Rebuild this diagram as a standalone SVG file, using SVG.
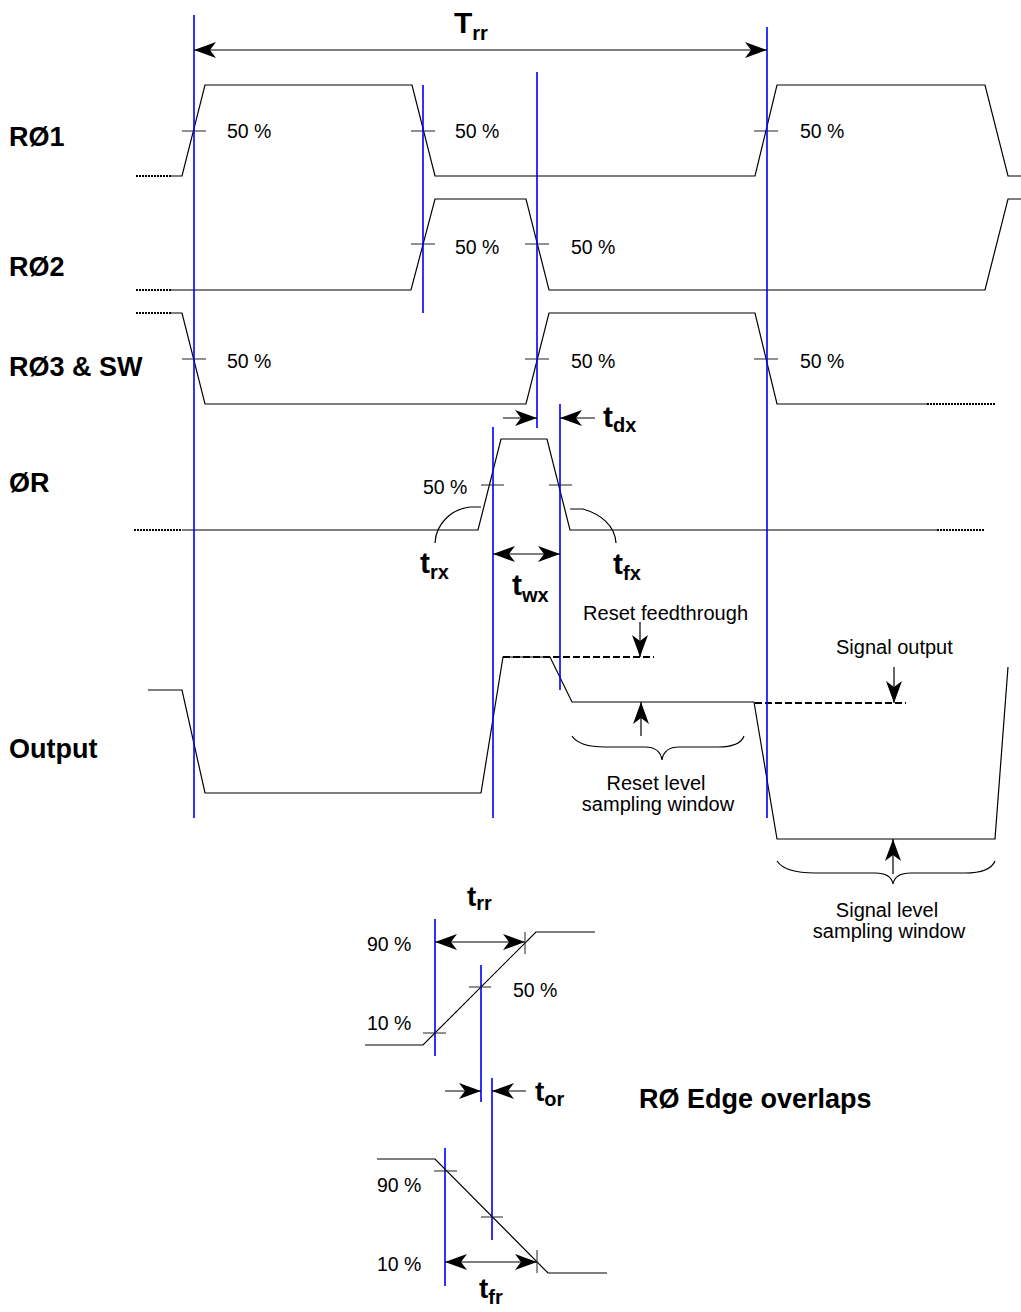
<svg xmlns="http://www.w3.org/2000/svg" width="1021" height="1312" viewBox="0 0 1021 1312">
<defs>
<style>
.w{fill:none;stroke:#000;stroke-width:1.2;stroke-linejoin:miter}
.dot{fill:none;stroke:#000;stroke-width:2;stroke-dasharray:2 1}
.dash{fill:none;stroke:#000;stroke-width:2;stroke-dasharray:7 3}
.tk{fill:none;stroke:#222;stroke-width:1}
.bl{fill:none;stroke:#0000ff;stroke-width:1.6}
.ar{fill:none;stroke:#000;stroke-width:1.2}
.lb{font-family:"Liberation Sans",Arial,sans-serif;font-weight:bold;font-size:27px;fill:#000}
.pc{font-family:"Liberation Sans",Arial,sans-serif;font-size:19.5px;fill:#000}
.an{font-family:"Liberation Sans",Arial,sans-serif;font-size:20px;fill:#000}
.tt{font-family:"Liberation Sans",Arial,sans-serif;font-weight:bold;font-size:30px;fill:#000}
.sb{font-size:20px}
</style>
<marker id="ah" viewBox="0 0 22 16" refX="22" refY="8" markerWidth="22" markerHeight="16" markerUnits="userSpaceOnUse" orient="auto-start-reverse"><path d="M0,0 L22,8 L0,16 L6,8 Z" fill="#000"/></marker>
</defs>
<rect width="1021" height="1312" fill="#fff"/>

<g id="labels">
<text class="lb" x="9" y="146">RØ1</text>
<text class="lb" x="9" y="276">RØ2</text>
<text class="lb" x="9" y="376">RØ3 &amp; SW</text>
<text class="lb" x="9" y="492">ØR</text>
<text class="lb" x="9" y="758">Output</text>
</g>

<g id="ro1">
<path class="dot" d="M136,176 H171"/>
<path class="w" d="M171,176 H182 L205,85 H412 L435,176 H755 L777,85 H985 L1008,176 H1021"/>
<path class="tk" d="M182,131 H206 M411,131 H435 M754,131 H778"/>
<text class="pc" x="227" y="138">50 %</text>
<text class="pc" x="455" y="138">50 %</text>
<text class="pc" x="800" y="138">50 %</text>
</g>

<g id="ro2">
<path class="dot" d="M136,290 H171"/>
<path class="w" d="M171,290 H411 L435,199 H526 L549,290 H985 L1008,199 H1021"/>
<path class="tk" d="M411,244 H435 M525,244 H549"/>
<text class="pc" x="455" y="254">50 %</text>
<text class="pc" x="571" y="254">50 %</text>
</g>

<g id="ro3">
<path class="dot" d="M136,313 H171"/>
<path class="w" d="M171,313 H182 L205,404 H526 L549,313 H755 L777,404 H927"/>
<path class="dot" d="M927,404 H996"/>
<path class="tk" d="M182,359 H206 M525,359 H549 M754,359 H778"/>
<text class="pc" x="227" y="368">50 %</text>
<text class="pc" x="571" y="368">50 %</text>
<text class="pc" x="800" y="368">50 %</text>
</g>

<g id="or">
<path class="dot" d="M134,530 H182"/>
<path class="w" d="M182,530 H478 L501,439 H547 L570,530 H937"/>
<path class="dot" d="M937,530 H985"/>
<path class="tk" d="M481,485 H504 M549,485 H572"/>
<text class="pc" x="423" y="494">50 %</text>
<path class="w" d="M481,507 H470 C452,509 436,523 435,543"/>
<path class="w" d="M570,509 H583 C600,514 615,525 616,543"/>
<text class="tt" x="420" y="573">t<tspan class="sb" dy="6">rx</tspan></text>
<text class="tt" x="613" y="574">t<tspan class="sb" dy="6">fx</tspan></text>
<text class="tt" x="512" y="595">t<tspan class="sb" dy="7">wx</tspan></text>
<text class="tt" x="603" y="427">t<tspan class="sb" dy="5">dx</tspan></text>
</g>

<g id="output">
<path class="w" d="M148,690 H182 L205,793 H481 L503,657 H550 L572,702 H754 L777,839 H995 L1008,667"/>
<path class="dash" d="M503,657 H654"/>
<path class="dash" d="M755,703 H906"/>
<text class="an" x="583" y="620" textLength="165">Reset feedthrough</text>
<text class="an" x="836" y="654">Signal output</text>
<path class="w" d="M572,736 Q579,747 605,747 H645 Q660,747 662,760 Q664,747 679,747 H718 Q740,747 744,736"/>
<path class="w" d="M777,861 Q785,873 815,873 H875 Q891,873 893,884 Q895,873 911,873 H965 Q990,873 995,861"/>
<text class="an" x="656" y="790" text-anchor="middle">Reset level</text>
<text class="an" x="658" y="811" text-anchor="middle">sampling window</text>
<text class="an" x="887" y="917" text-anchor="middle">Signal level</text>
<text class="an" x="889" y="938" text-anchor="middle">sampling window</text>
</g>

<g id="timing-lines">
<path class="bl" d="M194,15 V818 M423,85 V313 M537,72 V428 M767,27 V818 M493,427 V818 M560,404 V690"/>
<path class="bl" d="M435,919 V1056 M481,965 V1102 M492,1078 V1240 M445,1148 V1286"/>
</g>

<g id="connectors">
<path class="ar" d="M194,50 H767" marker-start="url(#ah)" marker-end="url(#ah)"/>
<path class="ar" d="M503,418 H537" marker-end="url(#ah)"/>
<path class="ar" d="M595,418 H560" marker-end="url(#ah)"/>
<path class="ar" d="M493,554 H560" marker-start="url(#ah)" marker-end="url(#ah)"/>
<path class="ar" d="M640,622 V657" marker-end="url(#ah)"/>
<path class="ar" d="M894,667 V703" marker-end="url(#ah)"/>
<path class="ar" d="M641,736 V702" marker-end="url(#ah)"/>
<path class="ar" d="M893,874 V839" marker-end="url(#ah)"/>
<path class="ar" d="M435,942 H525" marker-start="url(#ah)" marker-end="url(#ah)"/>
<path class="ar" d="M445,1091 H481" marker-end="url(#ah)"/>
<path class="ar" d="M526,1091 H492" marker-end="url(#ah)"/>
<path class="ar" d="M445,1262 H537" marker-start="url(#ah)" marker-end="url(#ah)"/>
</g>

<g id="trr-label">
<text class="tt" x="454" y="33">T<tspan class="sb" dy="7">rr</tspan></text>
</g>

<g id="edge-rise">
<path class="w" d="M365,1045 H423 L536,932 H595"/>
<path class="tk" d="M423,1033 H446 M469,987 H491 M525,932 V954"/>
<text class="pc" x="367" y="951">90 %</text>
<text class="pc" x="513" y="997">50 %</text>
<text class="pc" x="367" y="1030">10 %</text>
<text class="tt" x="467" y="906" style="font-size:28px">t<tspan class="sb" dy="4">rr</tspan></text>
</g>

<g id="edge-overlap">
<text class="tt" x="535" y="1101" style="font-size:28px">t<tspan class="sb" dy="5">or</tspan></text>
<text class="lb" x="639" y="1108">RØ Edge overlaps</text>
</g>

<g id="edge-fall">
<path class="w" d="M377,1159 H435 L548,1273 H607"/>
<path class="tk" d="M434,1171 H457 M481,1217 H503 M537,1250 V1273"/>
<text class="pc" x="377" y="1192">90 %</text>
<text class="pc" x="377" y="1271">10 %</text>
<text class="tt" x="479" y="1298" style="font-size:28px">t<tspan class="sb" dy="6">fr</tspan></text>
</g>
</svg>
